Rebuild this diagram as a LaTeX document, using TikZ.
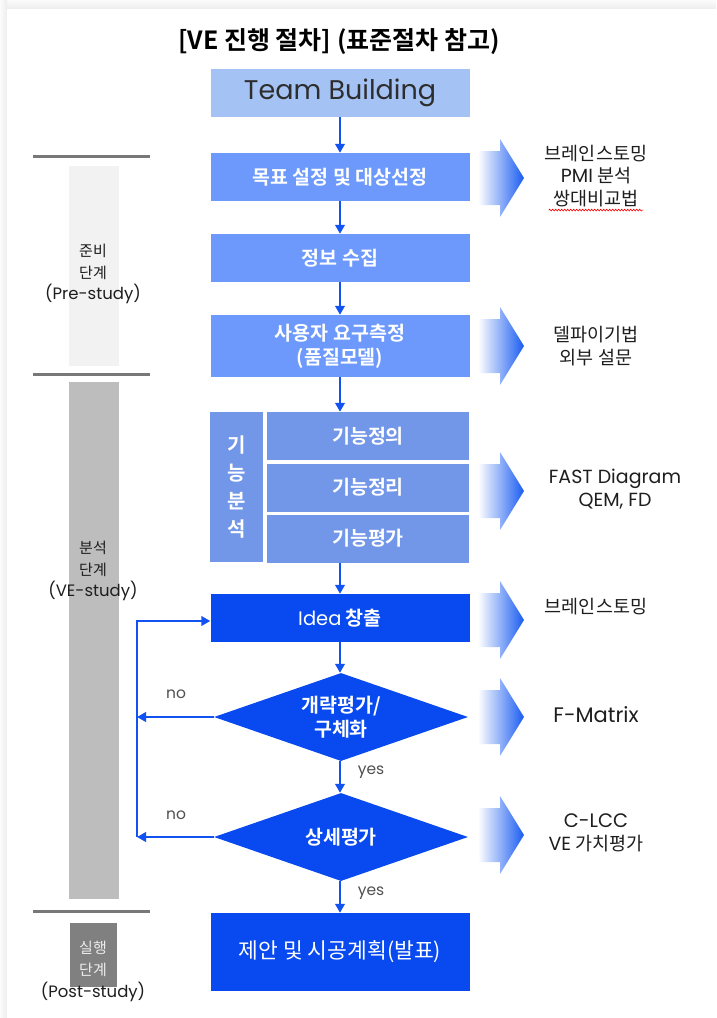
\documentclass[tikz,border=0pt]{standalone}
\usepackage{fontspec}
\setmainfont{Poppins}
\newfontfamily\kr{Noto Sans CJK KR}[BoldFont={Noto Sans CJK KR Bold}]
\usetikzlibrary{shapes.geometric,arrows.meta,decorations.pathmorphing}
\definecolor{tbcol}{RGB}{164,194,244}
\definecolor{midcol}{RGB}{108,153,251}
\definecolor{fcol}{RGB}{114,150,232}
\definecolor{deepcol}{RGB}{8,74,240}
\definecolor{arrcol}{RGB}{18,82,240}
\definecolor{bigarr}{RGB}{26,92,240}
\definecolor{txtdark}{RGB}{30,30,30}
\definecolor{sepcol}{RGB}{120,120,120}
\definecolor{prebar}{RGB}{242,242,242}
\definecolor{vebar}{RGB}{189,189,189}
\definecolor{postbar}{RGB}{128,128,128}
\definecolor{lblgray}{RGB}{80,80,80}
\newcommand\bigarrowat[1]{%
  \begin{scope}[shift={(0,#1)}]
    \shade[left color=white,middle color=bigarr!75,right color=bigarr]
      (478,-27) -- (500,-27) -- (500,-39) -- (524,0) -- (500,39) -- (500,27) -- (478,27) -- cycle;
  \end{scope}}
\begin{document}
\begin{tikzpicture}[x=1pt,y=-1pt,
  box/.style={rectangle,inner sep=0pt,minimum width=259pt,minimum height=48pt,text=white,
    font=\kr\bfseries\fontsize{19.5}{24}\selectfont,align=center},
  fbox/.style={box,fill=fcol,minimum width=202pt},
  dia/.style={diamond,inner sep=0pt,aspect=2.886,minimum width=254pt,minimum height=88pt,fill=deepcol},
  diatext/.style={inner sep=0pt,text=white,font=\kr\bfseries\fontsize{19.5}{24}\selectfont,align=center},
  conn/.style={draw=arrcol,line width=2.8pt,-{Triangle[length=9pt,width=9.5pt]}},
  fbline/.style={draw=arrcol,line width=2.8pt},
  rtext/.style={text=txtdark,font=\kr\fontsize{18.5}{22.5}\selectfont,align=center,inner sep=0pt},
  rlat/.style={rtext,font=\fontsize{19}{22.5}\selectfont},
  ltext/.style={text=txtdark,font=\kr\fontsize{15}{21.5}\selectfont,align=center,inner sep=0pt},
  yn/.style={text=lblgray,font=\fontsize{15.5}{18}\selectfont,inner sep=0pt},
  sep/.style={draw=sepcol,line width=3pt}
]
\useasboundingbox (0,0) rectangle (716,1018);
% background card with shadow
\fill[gray!9] (0,0) rectangle (716,1018);
\shade[top color=gray!3,bottom color=gray!14] (0,0) rectangle (716,9);
\shade[left color=gray!3,right color=gray!14] (0,0) rectangle (7,1018);
\fill[white] (7,9) rectangle (716,1018);

% title
\node[inner sep=0pt,font=\kr\bfseries\fontsize{25}{28}\selectfont,text=black] (title) at (339,42) {[VE 진행 절차] (표준절차 참고)};

% left phase column
\draw[sep] (33,156) -- (150,156);
\draw[sep] (33,374) -- (150,374);
\draw[sep] (33,911) -- (150,911);
\fill[prebar] (69,166) rectangle (119,366);
\fill[vebar] (69,382) rectangle (119,899);
\fill[postbar] (70,923) rectangle (117,987);
\node[ltext] (lpre) at (93,274) {준비\\단계\\{\rmfamily\fontsize{16.5}{21.5}\selectfont (Pre-study)}};
\node[ltext] (lve) at (93,571) {분석\\단계\\{\rmfamily\fontsize{16.5}{21.5}\selectfont (VE-study)}};
\node[ltext,text=gray!15] (lpost) at (93,959) {실행\\단계};
\node[ltext,font=\fontsize{16.5}{21.5}\selectfont] (lpost2) at (93,992) {(Post-study)};

% main boxes
\node[box,fill=tbcol,text={rgb,255:red,45;green,45;blue,45},font=\fontsize{27}{30}\selectfont] (tb) at (340,93) {Team Building};
\node[box,fill=midcol] (goal) at (340,177) {목표 설정 및 대상선정};
\node[box,fill=midcol] (info) at (340,258) {정보 수집};
\node[box,fill=midcol,minimum height=62pt] (user) at (340,346) {사용자 요구측정\\(품질모델)};
\node[box,fill=fcol,minimum width=53pt,minimum height=150pt,font=\kr\bfseries\fontsize{20}{27.7}\selectfont] (fcolumn) at (236.5,487) {기\\능\\분\\석};
\node[fbox] (fdef) at (368,436) {기능정의};
\node[fbox] (forg) at (368,487.5) {기능정리};
\node[fbox] (feval) at (368,538.5) {기능평가};
\node[box,fill=deepcol] (idea) at (340,618) {{\rmfamily\mdseries\fontsize{19.5}{24}\selectfont Idea} 창출};
\node[dia] (d1) at (341,717) {};
\node[diatext] (d1t) at (d1.center) {개략평가/\\구체화};
\node[dia] (d2) at (341,837) {};
\node[diatext] (d2t) at (d2.center) {상세평가};
\node[box,fill=deepcol,minimum height=78pt,font=\kr\fontsize{21.5}{24}\selectfont] (final) at (340,952) {제안 및 시공계획(발표)};

% vertical connectors
\draw[conn] (tb.south) -- (goal.north);
\draw[conn] (goal.south) -- (info.north);
\draw[conn] (info.south) -- (user.north);
\draw[conn] (user.south) -- (user.south |- fdef.north);
\draw[conn] (idea.north |- feval.south) -- (idea.north);
\draw[conn] (idea.south) -- (idea.south |- d1.north);
\draw[conn] (d1.south -| idea.south) -- (d2.north -| idea.south);
\draw[conn] (d2.south -| idea.south) -- (final.north);

% feedback loop
\coordinate (fbtop) at (137,621);
\coordinate (fbbot) at (137,837);
\draw[conn] (d1.west) -- (d1.west -| fbtop);
\draw[conn] (d2.west) -- (fbbot);
\draw[fbline] (fbbot) -- (fbtop);
\draw[conn] ([xshift=-1.4pt]fbtop) -- (fbtop -| idea.west);

% yes / no labels
\node[yn] (no1) at (176,694) {no};
\node[yn] (no2) at (176,815) {no};
\node[yn] (yes1) at (371,772) {yes};
\node[yn] (yes2) at (371,893) {yes};

% right big arrows
\bigarrowat{178}
\bigarrowat{346}
\bigarrowat{491}
\bigarrowat{620}
\bigarrowat{717}
\bigarrowat{835}

% right texts
\node[rtext] (r1) at (596,176) {브레인스토밍\\{\rmfamily\fontsize{19}{22.5}\selectfont PMI} 분석\\쌍대비교법};
\draw[red,line width=0.6pt,decorate,decoration={snake,amplitude=0.9pt,segment length=3pt}] ([xshift=4pt,yshift=-3pt]r1.south west) coordinate (wv1) -- ([xshift=-4pt,yshift=-3pt]r1.south east) coordinate (wv2);
\node[rtext] (r2) at (596,346) {델파이기법\\외부 설문};
\node[rlat] (r3) at (615,489) {FAST Diagram\\QEM, FD};
\node[rtext] (r4) at (596,607) {브레인스토밍};
\node[rlat,font=\fontsize{21}{24}\selectfont] (r5) at (596,715) {F-Matrix};
\node[rtext] (r6) at (596,833) {{\rmfamily\fontsize{19.5}{22.5}\selectfont C-LCC}\\{\rmfamily\fontsize{19}{22.5}\selectfont VE} 가치평가};
\end{tikzpicture}
\end{document}
